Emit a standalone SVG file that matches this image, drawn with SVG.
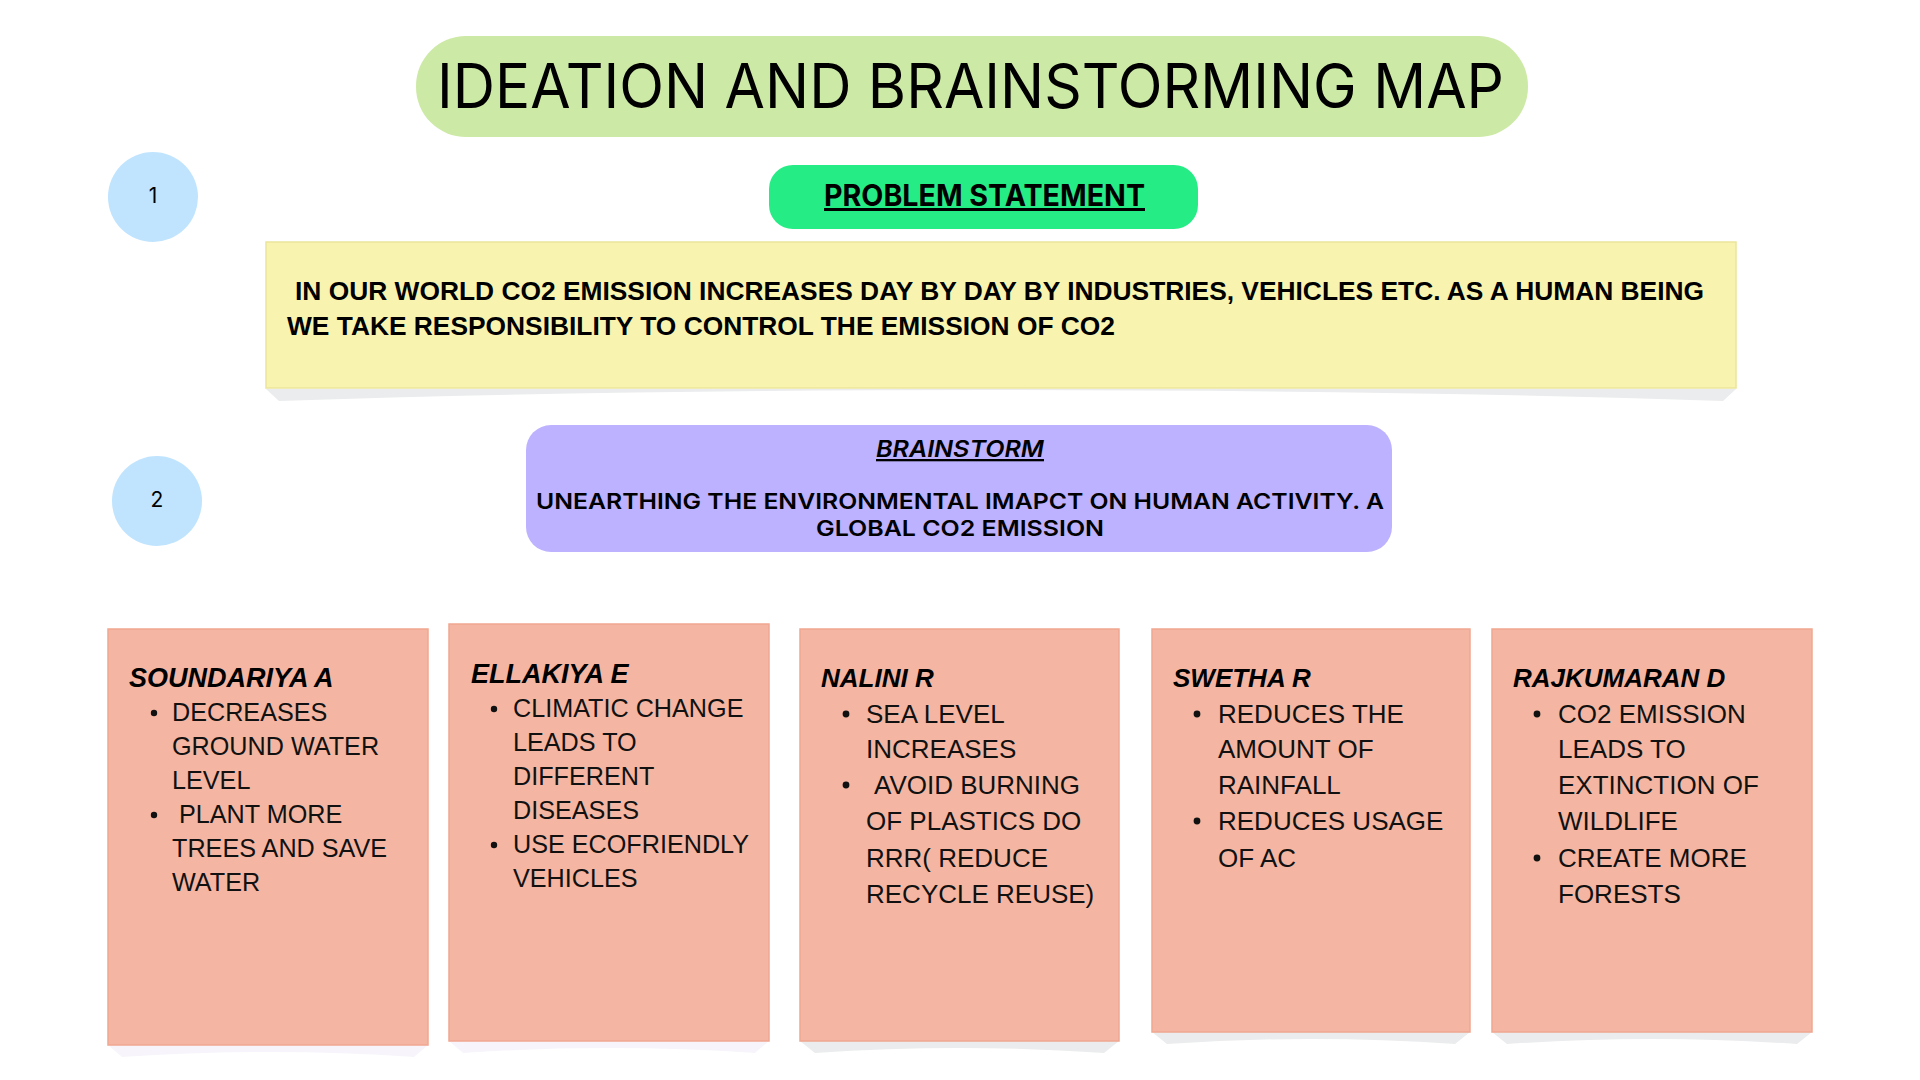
<svg xmlns="http://www.w3.org/2000/svg" width="1920" height="1080" viewBox="0 0 1920 1080">
  <style>
    .heading { font-family: Inter, "Open Sans", sans-serif; fill: #000; }
    .num { font-family: Inter, "Open Sans", sans-serif; font-size: 21px; fill: #000; text-anchor: middle; }
    .stmt { font-family: "Liberation Sans", Arial, sans-serif; font-weight: bold; font-size: 25px; fill: #000; }
    .card { fill: #F4B6A2; stroke: #F0A690; stroke-width: 1.5; }
    .name { font-family: "Liberation Sans", Arial, sans-serif; font-weight: bold; font-style: italic; fill: #000; }
    .item { font-family: "Liberation Sans", Arial, sans-serif; fill: #111; }
    .n27 { font-size: 27px; }
    .s25 { font-size: 25.2px; }
    .s26 { font-size: 26px; }
    .dot { fill: #111; }
    .shadow-grey { fill: #EBECED; }
    .shadow-faint { fill: #F7F5FB; }
    .step { fill: #C0E4FE; }
  </style>

  <rect width="1920" height="1080" fill="#FFFFFF"/>

  <!-- Title banner -->
  <g id="title">
    <rect x="416" y="36" width="1112" height="101" rx="50" fill="#CDE9A6"/>
    <text class="heading" x="437" y="108" font-size="62" textLength="1067" lengthAdjust="spacingAndGlyphs">IDEATION AND BRAINSTORMING MAP</text>
  </g>

  <!-- Step markers -->
  <g id="step-1">
    <circle class="step" cx="153" cy="197" r="45"/>
    <text class="num" x="153" y="203">1</text>
  </g>
  <g id="step-2">
    <circle class="step" cx="157" cy="501" r="45"/>
    <text class="num" x="157" y="507">2</text>
  </g>

  <!-- Problem statement label -->
  <g id="problem-label">
    <rect x="769" y="165" width="429" height="64" rx="24" fill="#26EC85"/>
    <text class="heading" x="824" y="206" font-size="30" font-weight="700" text-decoration="underline" textLength="321" lengthAdjust="spacingAndGlyphs">PROBLEM STATEMENT</text>
  </g>

  <!-- Problem statement note -->
  <g id="problem-note">
    <path class="shadow-grey" d="M266 389 L279 401 Q600 390 990 390 Q1400 390 1723 401 L1736 389 Z"/>
    <rect x="266" y="242" width="1470" height="146" fill="#F8F4B0" stroke="#ECE49A" stroke-width="1.5"/>
    <text class="stmt" x="295" y="300" textLength="1409" lengthAdjust="spacingAndGlyphs">IN OUR WORLD CO2 EMISSION INCREASES DAY BY DAY BY INDUSTRIES, VEHICLES ETC. AS A HUMAN BEING</text>
    <text class="stmt" x="287" y="335" textLength="828" lengthAdjust="spacingAndGlyphs">WE TAKE RESPONSIBILITY TO CONTROL THE EMISSION OF CO2</text>
  </g>

  <!-- Brainstorm topic -->
  <g id="brainstorm">
    <rect x="526" y="425" width="866" height="127" rx="25" fill="#BDB2FF"/>
    <text class="heading" x="960" y="457" font-size="23" font-weight="600" font-style="italic" text-anchor="middle" text-decoration="underline" textLength="168" lengthAdjust="spacingAndGlyphs">BRAINSTORM</text>
    <text class="heading" x="960" y="509" font-size="22" font-weight="600" text-anchor="middle" textLength="848" lengthAdjust="spacingAndGlyphs">UNEARTHING THE ENVIRONMENTAL IMAPCT ON HUMAN ACTIVITY. A</text>
    <text class="heading" x="960" y="536" font-size="22" font-weight="600" text-anchor="middle" textLength="288" lengthAdjust="spacingAndGlyphs">GLOBAL CO2 EMISSION</text>
  </g>

  <!-- Idea cards -->
  <g id="card-soundariya">
    <path class="shadow-faint" d="M108 1045 L122 1057 Q268 1047 414 1057 L428 1045 Z"/>
    <rect class="card" x="108" y="629" width="320" height="416"/>
    <text class="name n27" x="129" y="687">SOUNDARIYA A</text>
    <circle class="dot" cx="154" cy="713" r="3.2"/>
    <text class="item s25" x="172" y="721">DECREASES</text>
    <text class="item s25" x="172" y="755">GROUND WATER</text>
    <text class="item s25" x="172" y="789">LEVEL</text>
    <circle class="dot" cx="154" cy="815" r="3.2"/>
    <text class="item s25" x="179" y="823">PLANT MORE</text>
    <text class="item s25" x="172" y="857">TREES AND SAVE</text>
    <text class="item s25" x="172" y="891">WATER</text>
  </g>

  <g id="card-ellakiya">
    <path class="shadow-faint" d="M449 1041 L463 1053 Q609 1043 755 1053 L769 1041 Z"/>
    <rect class="card" x="449" y="624" width="320" height="417"/>
    <text class="name n27" x="471" y="683">ELLAKIYA E</text>
    <circle class="dot" cx="494" cy="709" r="3.2"/>
    <text class="item s25" x="513" y="717">CLIMATIC CHANGE</text>
    <text class="item s25" x="513" y="751">LEADS TO</text>
    <text class="item s25" x="513" y="785">DIFFERENT</text>
    <text class="item s25" x="513" y="819">DISEASES</text>
    <circle class="dot" cx="494" cy="845" r="3.2"/>
    <text class="item s25" x="513" y="853">USE ECOFRIENDLY</text>
    <text class="item s25" x="513" y="887">VEHICLES</text>
  </g>

  <g id="card-nalini">
    <path class="shadow-grey" d="M800 1041 L815 1053 Q960 1043 1104 1053 L1119 1041 Z"/>
    <rect class="card" x="800" y="629" width="319" height="412"/>
    <text class="name s26" x="821" y="687">NALINI R</text>
    <circle class="dot" cx="846" cy="714" r="3.4"/>
    <text class="item s26" x="866" y="723">SEA LEVEL</text>
    <text class="item s26" x="866" y="758">INCREASES</text>
    <circle class="dot" cx="846" cy="785" r="3.4"/>
    <text class="item s26" x="874" y="794">AVOID BURNING</text>
    <text class="item s26" x="866" y="830">OF PLASTICS DO</text>
    <text class="item s26" x="866" y="867">RRR( REDUCE</text>
    <text class="item s26" x="866" y="903">RECYCLE REUSE)</text>
  </g>

  <g id="card-swetha">
    <path class="shadow-grey" d="M1152 1032 L1167 1044 Q1311 1034 1455 1044 L1470 1032 Z"/>
    <rect class="card" x="1152" y="629" width="318" height="403"/>
    <text class="name s26" x="1173" y="687">SWETHA R</text>
    <circle class="dot" cx="1197" cy="714" r="3.4"/>
    <text class="item s26" x="1218" y="723">REDUCES THE</text>
    <text class="item s26" x="1218" y="758">AMOUNT OF</text>
    <text class="item s26" x="1218" y="794">RAINFALL</text>
    <circle class="dot" cx="1197" cy="821" r="3.4"/>
    <text class="item s26" x="1218" y="830">REDUCES USAGE</text>
    <text class="item s26" x="1218" y="867">OF AC</text>
  </g>

  <g id="card-rajkumaran">
    <path class="shadow-grey" d="M1492 1032 L1507 1044 Q1652 1034 1797 1044 L1812 1032 Z"/>
    <rect class="card" x="1492" y="629" width="320" height="403"/>
    <text class="name s26" x="1513" y="687">RAJKUMARAN D</text>
    <circle class="dot" cx="1537" cy="714" r="3.4"/>
    <text class="item s26" x="1558" y="723">CO2 EMISSION</text>
    <text class="item s26" x="1558" y="758">LEADS TO</text>
    <text class="item s26" x="1558" y="794">EXTINCTION OF</text>
    <text class="item s26" x="1558" y="830">WILDLIFE</text>
    <circle class="dot" cx="1537" cy="858" r="3.4"/>
    <text class="item s26" x="1558" y="867">CREATE MORE</text>
    <text class="item s26" x="1558" y="903">FORESTS</text>
  </g>

  <!-- No links between the notes -->
  <g id="connectors"/>
</svg>
